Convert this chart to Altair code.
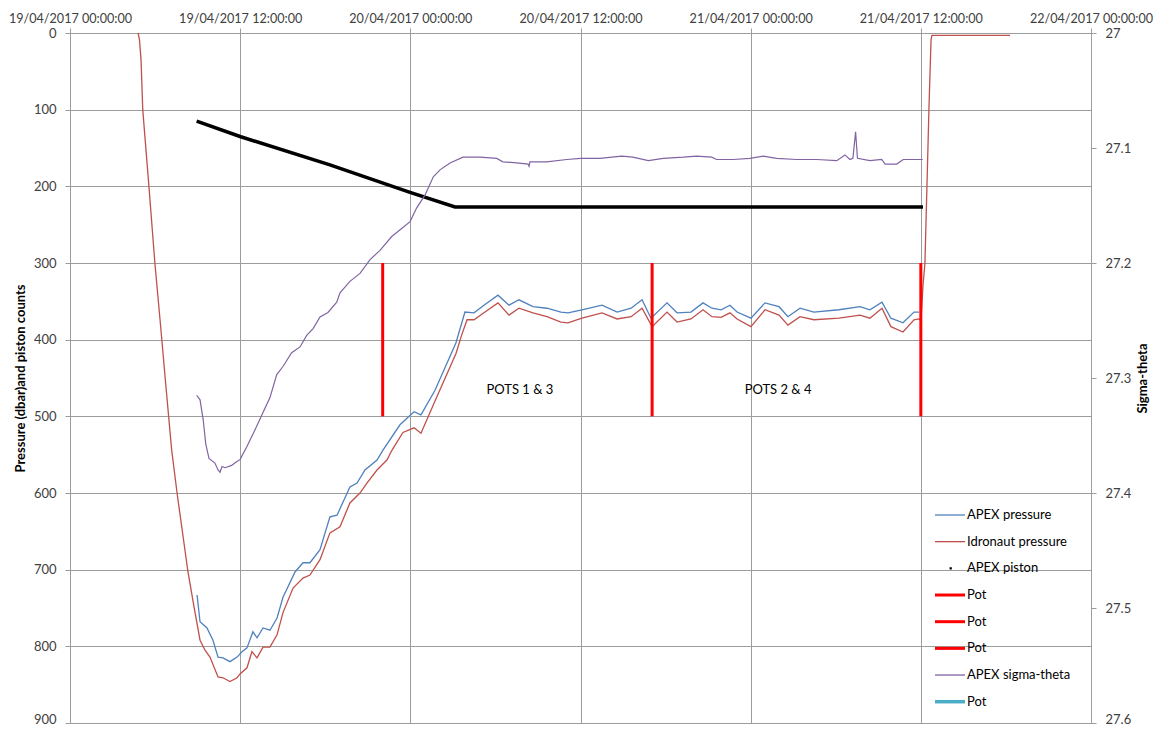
import altair as alt
import pandas as pd

# ---------------- data (hours since 19/04/2017 00:00:00) ----------------
apex_h = [8.96, 9.17, 9.66, 10.08, 10.44, 10.79, 11.28, 11.78, 12.13, 12.48,
          12.90, 13.19, 13.61, 14.10, 14.60, 15.02, 15.87, 16.43, 16.92, 17.63,
          18.33, 18.83, 19.74, 20.24, 20.80, 21.65, 22.07, 23.27, 24.26, 24.75,
          25.74, 27.22, 27.85, 28.49, 29.19, 30.18, 30.96, 31.66, 32.65, 33.64,
          34.62, 35.12, 36.10, 37.52, 38.58, 39.57, 40.34, 40.97, 42.10, 42.81,
          43.79, 44.64, 45.27, 45.91, 46.54, 47.04, 48.02, 49.01, 50.00, 50.63,
          51.48, 52.46, 54.23, 55.71, 56.41, 57.26, 57.89, 58.74, 59.52, 59.87]
apex_p = [733, 768, 776, 792, 814, 815, 820, 814, 807, 802,
          781, 789, 776, 779, 763, 736, 703, 691, 691, 674,
          631, 629, 592, 587, 570, 557, 544, 511, 494, 498,
          466, 404, 364, 365, 355, 342, 355, 348, 357, 359,
          364, 365, 361, 355, 364, 359, 348, 372, 352, 365,
          364, 352, 359, 361, 355, 364, 372, 352, 357, 370,
          359, 364, 361, 357, 361, 351, 372, 378, 364, 364]

idr_h = [4.80, 4.90, 5.01, 5.13, 5.57, 5.99, 6.35, 6.77, 7.17, 7.55,
         8.32, 8.74, 9.17, 9.52, 9.87, 10.44, 10.79, 11.28, 11.78, 11.99,
         12.48, 12.83, 13.19, 13.61, 14.10, 14.60, 15.02, 15.73, 16.43, 16.92,
         17.63, 18.33, 19.04, 19.74, 20.45, 20.94, 21.65, 22.35, 22.71, 23.48,
         24.26, 24.75, 25.74, 27.22, 27.60, 28.00, 28.49, 29.19, 30.18, 30.96,
         31.66, 32.65, 33.64, 34.62, 35.12, 36.10, 37.52, 38.58, 39.57, 40.34,
         41.05, 42.10, 42.81, 43.79, 44.64, 45.27, 45.91, 46.54, 47.04, 48.02,
         49.01, 50.00, 50.63, 51.48, 52.46, 54.23, 55.71, 56.41, 57.26, 57.89,
         58.74, 59.52, 59.87, 60.01, 60.15, 60.29, 60.43, 60.57, 60.72, 60.78,
         66.29]
idr_p = [0, 9, 35, 100, 201, 301, 374, 462, 544, 600,
         703, 748, 792, 805, 814, 840, 841, 846, 841, 836,
         828, 807, 815, 801, 801, 785, 756, 724, 711, 707,
         687, 652, 644, 613, 600, 587, 570, 557, 544, 521,
         515, 522, 480, 418, 395, 374, 374, 365, 352, 368,
         359, 365, 370, 377, 378, 372, 365, 373, 370, 359,
         383, 364, 377, 373, 361, 370, 371, 365, 373, 383,
         361, 368, 381, 370, 374, 372, 368, 372, 359, 383,
         390, 374, 373, 375, 330, 300, 201, 100, 9, 3,
         3]

piston_h = [8.93, 11.99, 18.33, 23.98, 27.15, 60.15]
piston_c = [115, 135, 172, 208, 227, 227]

sig_h = [8.93, 9.17, 9.40, 9.57, 9.80, 10.22, 10.44, 10.58, 10.72, 10.93,
         11.40, 11.71, 11.99, 12.46, 13.05, 13.61, 14.10, 14.58, 15.02, 15.63,
         16.22, 16.69, 17.14, 17.63, 18.19, 18.81, 19.04, 19.74, 20.45, 21.16,
         21.86, 22.69, 23.39, 23.98, 24.45, 25.03, 25.62, 26.09, 26.80, 27.71,
         28.91, 30.09, 30.53, 31.50, 32.30, 32.37, 32.44, 33.62, 35.03, 36.01,
         37.37, 38.90, 39.70, 40.78, 41.84, 43.25, 44.19, 45.25, 45.60, 46.77,
         47.95, 48.89, 49.83, 51.24, 52.65, 54.07, 54.65, 55.00, 55.21, 55.40,
         55.53, 56.41, 57.24, 57.48, 58.30, 58.76, 59.23, 60.13]
sig_v = [27.315, 27.319, 27.337, 27.357, 27.370, 27.374, 27.380, 27.382, 27.377, 27.378,
         27.376, 27.373, 27.371, 27.360, 27.345, 27.330, 27.317, 27.297, 27.290, 27.278,
         27.273, 27.263, 27.257, 27.247, 27.243, 27.234, 27.226, 27.216, 27.209, 27.197,
         27.189, 27.177, 27.170, 27.164, 27.152, 27.141, 27.125, 27.119, 27.113, 27.108,
         27.108, 27.109, 27.112, 27.113, 27.114, 27.116, 27.112, 27.112, 27.110, 27.109,
         27.109, 27.107, 27.108, 27.111, 27.109, 27.108, 27.107, 27.108, 27.110, 27.110,
         27.109, 27.107, 27.109, 27.110, 27.110, 27.111, 27.106, 27.110, 27.109, 27.086,
         27.109, 27.111, 27.110, 27.114, 27.114, 27.110, 27.110, 27.110]

pot_h = [22.05, 41.05, 60.00]
pot_top = [300, 300, 300]
pot_bottom = [500, 500, 500]

note_h = [31.73, 49.93]
note_p = [466, 466]
note_text = ["POTS 1 & 3", "POTS 2 & 4"]

legend_labels = ["APEX pressure", "Idronaut pressure", "APEX piston", "Pot", "Pot", "Pot",
                 "APEX sigma-theta", "Pot"]
legend_colors = ["#4F81BD", "#C0504D", "#000000", "#FF0000", "#FF0000", "#FF0000",
                 "#8064A2", "#4BACC6"]
legend_widths = [1.3, 1.3, 0, 3, 3, 3, 1.3, 3.5]
legend_kind = ["line", "line", "dot", "line", "line", "line", "line", "line"]

# ---------------- helpers ----------------
BASE = pd.Timestamp("2017-04-19 00:00:00")


def stamps(hours):
    return [(BASE + pd.Timedelta(seconds=round(h * 3600))).strftime("%Y-%m-%dT%H:%M:%S")
            for h in hours]


GRID = "#9c9c9c"
FONT = "Lato"
LABEL = "#404040"


def dt(day, hour):
    return alt.DateTime(year=2017, month=4, date=day, hours=hour)


x_scale = alt.Scale(domain=[dt(19, 0), dt(22, 0)], nice=False)
x_axis = alt.Axis(orient="top", values=[dt(19, 0), dt(19, 12), dt(20, 0), dt(20, 12),
                                        dt(21, 0), dt(21, 12), dt(22, 0)],
                  format="%d/%m/%Y %H:%M:%S", title=None, grid=True, gridColor=GRID,
                  domainColor=GRID, tickColor=GRID, tickSize=5, labelPadding=3,
                  labelFontSize=12.6, labelFont=FONT, labelColor=LABEL, labelAngle=0,
                  labelOverlap=False, labelFlush=False)


def X():
    return alt.X("t:T", scale=x_scale, axis=x_axis)


p_scale = alt.Scale(domain=[0, 900], reverse=True, nice=False, zero=False)
s_scale = alt.Scale(domain=[27.0, 27.6], reverse=True, nice=False, zero=False)

left_axis = alt.Axis(orient="left", values=list(range(0, 1000, 100)), grid=True,
                     gridColor=GRID, domainColor=GRID, tickColor=GRID, tickSize=5,
                     labelPadding=9, labelFont=FONT, labelFontSize=13, labelColor=LABEL,
                     labelFlush=False,
                     labelOffset={"condition": {"test": "datum.value >= 899", "value": -4},
                                  "value": 0},
                     title="Pressure (dbar)and piston counts", titleFont=FONT,
                     titleFontSize=13, titleFontWeight="bold", titleColor="#000000",
                     titlePadding=6)
right_axis = alt.Axis(orient="right", values=[27.0, 27.1, 27.2, 27.3, 27.4, 27.5, 27.6],
                      format=".1~f", grid=False, domainColor=GRID, tickColor=GRID,
                      tickSize=5, labelPadding=9, labelFont=FONT, labelFontSize=13,
                      labelColor=LABEL, labelFlush=False,
                      labelOffset={"condition": {"test": "datum.value >= 27.59", "value": -4},
                                   "value": 0},
                      title="Sigma-theta", titleFont=FONT,
                      titleFontSize=13, titleFontWeight="bold", titleColor="#000000",
                      titleAngle=270, titleBaseline="top", titlePadding=6)

apex_df = pd.DataFrame({"t": stamps(apex_h), "p": apex_p})
idr_df = pd.DataFrame({"t": stamps(idr_h), "p": idr_p})
pist_df = pd.DataFrame({"t": stamps(piston_h), "p": piston_c})
sig_df = pd.DataFrame({"t": stamps(sig_h), "s": sig_v})
pot_df = pd.DataFrame({"t": stamps(pot_h), "top": pot_top, "bot": pot_bottom})
note_df = pd.DataFrame({"t": stamps(note_h), "p": note_p, "txt": note_text})
leg_df = pd.DataFrame({"idx": list(range(len(legend_labels))), "label": legend_labels,
                       "color": legend_colors, "w": legend_widths, "kind": legend_kind})

apex = alt.Chart(apex_df).mark_line(color="#4F81BD", strokeWidth=1.3).encode(
    x=X(), y=alt.Y("p:Q", scale=p_scale, axis=left_axis))
idr = alt.Chart(idr_df).mark_line(color="#C0504D", strokeWidth=1.3).encode(
    x=X(), y=alt.Y("p:Q", scale=p_scale, axis=None))
pist = alt.Chart(pist_df).mark_line(color="#000000", strokeWidth=3.5).encode(
    x=X(), y=alt.Y("p:Q", scale=p_scale, axis=None))
pots = alt.Chart(pot_df).mark_rule(color="#FF0000", strokeWidth=3).encode(
    x=X(), y=alt.Y("top:Q", scale=p_scale, axis=None), y2="bot:Q")
notes = alt.Chart(note_df).mark_text(font=FONT, fontSize=13, color="#000000").encode(
    x=X(), y=alt.Y("p:Q", scale=p_scale, axis=None), text="txt:N")
sig = alt.Chart(sig_df).mark_line(color="#8064A2", strokeWidth=1.2).encode(
    x=X(), y=alt.Y("s:Q", scale=s_scale, axis=right_axis))

leg_y = alt.Y("idx:Q", scale=alt.Scale(domain=[0, 7], range=[482, 668.7]), axis=None)
leg_lines = alt.Chart(leg_df).transform_filter(alt.datum.kind == "line").mark_rule().encode(
    x=alt.value(865), x2=alt.value(895), y=leg_y,
    color=alt.Color("color:N", scale=None),
    strokeWidth=alt.StrokeWidth("w:Q", scale=None))
leg_dot = alt.Chart(leg_df).transform_filter(alt.datum.kind == "dot").mark_square(
    size=5, color="#000000", opacity=1).encode(x=alt.value(880.7), y=leg_y)
leg_text = alt.Chart(leg_df).mark_text(align="left", baseline="middle", font=FONT,
                                       fontSize=13, color="#000000").encode(
    x=alt.value(897), y=leg_y, text="label:N")

chart = alt.layer(apex, idr, pist, pots, notes, sig, leg_lines, leg_dot, leg_text).resolve_scale(
    y="independent").properties(
    width=1021, height=690,
    autosize=alt.AutoSizeParams(type="none"),
    padding={"left": 62, "top": 25, "right": 62, "bottom": 2},
    background="#ffffff",
).configure_view(strokeWidth=0)

chart.save("out.html", embed_options={"renderer": "svg", "actions": False})
